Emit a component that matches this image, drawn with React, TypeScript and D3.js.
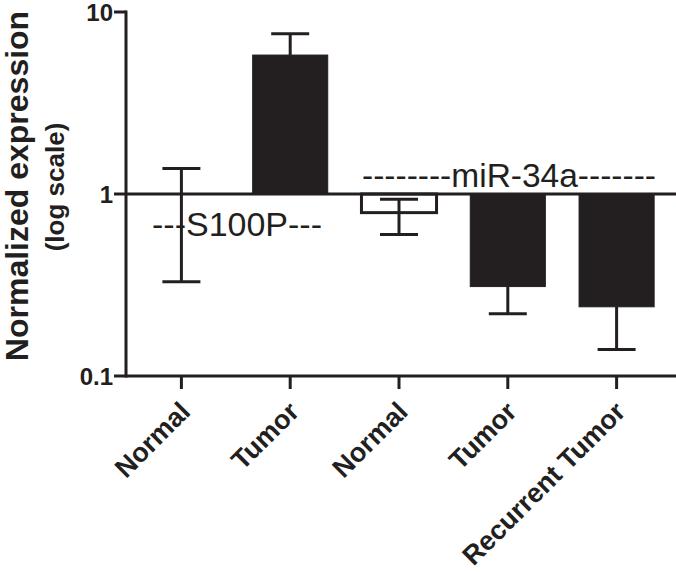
import React from "react";
import * as d3 from "d3";

const categories = ["Normal", "Tumor", "Normal", "Tumor", "Recurrent Tumor"];
const means = [1, 5.8, 0.79, 0.31, 0.24];
const errUpper: (number | null)[] = [1.38, 7.6, 0.935, null, null];
const errLower: (number | null)[] = [0.33, null, 0.6, 0.22, 0.14];
const filled = [false, true, false, true, true];
const yTicks = [10, 1, 0.1];
const yTickLabels = ["10", "1", "0.1"];
const annotations = [
  { text: "---S100P---", from: 0, to: 1 },
  { text: "--------miR-34a-------", from: 2, to: 4 },
];

const W = 676;
const H = 572;
const INK = "#231f20";
const FONT = "'Liberation Sans', Arial, Helvetica, sans-serif";

export default function App() {
  const axisX = 126;
  const axisY = 376;
  const y = d3.scaleLog().domain([0.1, 10]).range([376, 12]);
  const x = d3
    .scaleBand<number>()
    .domain(categories.map((_, i) => i))
    .range([127, 671])
    .paddingInner(0.31)
    .paddingOuter(0.155);
  const bw = x.bandwidth();
  const cx = (i: number) => (x(i) as number) + bw / 2;
  const capHalf = 19;
  const base = y(1);

  return (
    <svg
      width={W}
      height={H}
      style={{ position: "absolute", left: 0, top: 0, background: "#fff" }}
      fontFamily={FONT}
    >
      <rect x={0} y={0} width={W} height={H} fill="#fff" />
      {/* bars */}
      {means.map((m, i) => {
        const y0 = Math.min(y(m), base);
        const h = Math.abs(y(m) - base);
        if (h < 0.5) return null;
        return (
          <rect
            key={"b" + i}
            x={x(i)}
            y={y0}
            width={bw}
            height={h}
            fill={filled[i] ? INK : "#fff"}
            stroke={INK}
            strokeWidth={filled[i] ? 1 : 3}
          />
        );
      })}
      {/* error bars */}
      {means.map((m, i) => {
        const c = cx(i);
        const parts: JSX.Element[] = [];
        const up = errUpper[i];
        const lo = errLower[i];
        if (up != null) {
          parts.push(
            <line key="u" x1={c} x2={c} y1={y(m)} y2={y(up)} stroke={INK} strokeWidth={3} />,
            <line key="uc" x1={c - capHalf} x2={c + capHalf} y1={y(up)} y2={y(up)} stroke={INK} strokeWidth={3} />
          );
        }
        if (lo != null) {
          parts.push(
            <line key="l" x1={c} x2={c} y1={y(m)} y2={y(lo)} stroke={INK} strokeWidth={3} />,
            <line key="lc" x1={c - capHalf} x2={c + capHalf} y1={y(lo)} y2={y(lo)} stroke={INK} strokeWidth={3} />
          );
        }
        return <g key={"e" + i}>{parts}</g>;
      })}
      {/* baseline at 1 */}
      <line x1={axisX} x2={W} y1={base} y2={base} stroke={INK} strokeWidth={3} />
      {/* axes */}
      <line x1={axisX} x2={axisX} y1={y(10) - 1.5} y2={axisY + 1.5} stroke={INK} strokeWidth={3} />
      <line x1={axisX} x2={W} y1={axisY} y2={axisY} stroke={INK} strokeWidth={3} />
      {yTicks.map((t, i) => (
        <g key={"yt" + i}>
          <line x1={axisX - 12} x2={axisX} y1={y(t)} y2={y(t)} stroke={INK} strokeWidth={3} />
          <text
            x={axisX - 13}
            y={y(t)}
            dy="0.36em"
            textAnchor="end"
            fontWeight="bold"
            fontSize={24}
            fill={INK}
          >
            {yTickLabels[i]}
          </text>
        </g>
      ))}
      {categories.map((c, i) => (
        <g key={"xt" + i}>
          <line x1={cx(i)} x2={cx(i)} y1={axisY} y2={axisY + 13} stroke={INK} strokeWidth={3} />
          <text
            transform={`translate(${cx(i) - 3},${axisY + 24}) rotate(-45)`}
            textAnchor="end"
            dy="0.7em"
            fontWeight="bold"
            fontSize={27}
            fill={INK}
          >
            {c}
          </text>
        </g>
      ))}
      {/* annotations */}
      <text x={237} y={236} textAnchor="middle" fontSize={34} fill={INK}>
        {annotations[0].text}
      </text>
      <text x={509} y={187} textAnchor="middle" fontSize={33.5} fill={INK}>
        {annotations[1].text}
      </text>
      {/* y title */}
      <text
        transform={`translate(28,186) rotate(-90)`}
        textAnchor="middle"
        fontWeight="bold"
        fontSize={32}
        fill={INK}
      >
        Normalized expression
      </text>
      <text
        transform={`translate(64,187) rotate(-90)`}
        textAnchor="middle"
        fontWeight="bold"
        fontSize={26}
        fill={INK}
      >
        (log scale)
      </text>
    </svg>
  );
}
